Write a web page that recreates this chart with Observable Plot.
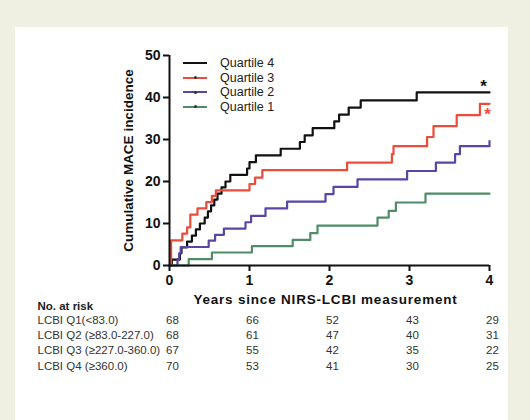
<!DOCTYPE html>
<html><head><meta charset="utf-8">
<script src="https://cdn.jsdelivr.net/npm/d3@7"></script>
<script src="https://cdn.jsdelivr.net/npm/@observablehq/plot@0.6"></script>
<style>
html,body{margin:0;padding:0;background:#efefe2;}
#wrap{position:relative;width:530px;height:420px;overflow:hidden;font-family:"Liberation Sans",Arial,sans-serif;}
#panel{position:absolute;left:15px;top:27px;width:493px;height:393px;background:#fff;}
#chart{position:absolute;left:0;top:0;}
#legend{position:absolute;left:183px;top:56px;}
.item{display:flex;align-items:center;height:14.5px;font-size:12.5px;color:#222;}
.sw{position:relative;width:24px;height:2.2px;margin-right:13px;}
.dot{position:absolute;left:11px;top:-0.4px;width:3px;height:3px;border-radius:50%;background:#333;}
</style></head><body>
<div id="wrap"><div id="panel"></div><div id="chart"></div><div id="legend"></div></div>
<script>
// ---- data ----
const seriesNames = ["Quartile 4", "Quartile 3", "Quartile 2", "Quartile 1"];
const seriesColors = ["#111111", "#ee4b3b", "#5a44a6", "#4f8c67"];

const q4Years  = [0,0.03,0.13,0.15,0.22,0.28,0.33,0.38,0.44,0.48,0.52,0.56,0.6,0.65,0.7,0.76,0.97,1.0,1.08,1.39,1.63,1.69,1.79,2.06,2.12,2.24,2.39,3.09,4.0];
const q4Values = [0,1.4,2.9,4.3,5.7,7.1,8.6,10.0,11.4,12.9,14.3,15.7,17.1,18.6,20.0,21.6,23.1,24.6,26.2,27.8,29.4,31.0,32.7,34.3,35.9,37.6,39.3,41.2,41.2];

const q3Years  = [0,0.02,0.16,0.22,0.26,0.35,0.46,0.53,0.58,1.0,1.07,1.16,2.22,2.78,2.8,3.22,3.3,3.59,3.88,4.0];
const q3Values = [0,6.0,7.6,9.1,12.1,13.6,15.1,16.6,17.9,19.4,20.9,22.7,24.5,26.5,28.4,30.6,33.2,35.8,38.5,38.5];

const q2Years  = [0,0.1,0.12,0.14,0.49,0.57,0.68,0.95,1.02,1.2,1.47,1.95,2.05,2.35,2.97,3.33,3.57,3.63,4.0];
const q2Values = [0,1.5,2.9,4.4,5.9,7.3,8.8,10.3,11.8,13.6,15.2,17.0,18.7,20.5,22.5,24.5,26.5,28.4,29.6];

const q1Years  = [0,0.24,0.53,1.03,1.54,1.76,1.85,2.6,2.74,2.83,3.2,4.0];
const q1Values = [0,1.5,3.1,4.6,6.1,7.7,9.5,11.4,13.0,15.0,17.1,17.1];

const xTicks = [0,1,2,3,4];
const yTicks = [0,10,20,30,40,50];
const xTitle = "Years since NIRS-LCBI measurement";
const yTitle = "Cumulative MACE incidence";

const riskTitle = "No. at risk";
const riskYears = [0,1,2,3,4];
const riskLabels = ["LCBI Q1(<83.0)", "LCBI Q2 (\u226583.0-227.0)", "LCBI Q3 (\u2265227.0-360.0)", "LCBI Q4 (\u2265360.0)"];
const riskQ1 = [68,66,52,43,29];
const riskQ2 = [68,61,47,40,31];
const riskQ3 = [67,55,42,35,22];
const riskQ4 = [70,53,41,30,25];

const starQ4 = {name:"Quartile 4", t:4, v:41.2};
const starQ3 = {name:"Quartile 3", t:4, v:38.5};

// ---- build ----
const seriesData = [
  [q4Years, q4Values], [q3Years, q3Values], [q2Years, q2Values], [q1Years, q1Values]
];
const rows = seriesData.flatMap(([ys, vs], k) => ys.map((t, i) => ({name: seriesNames[k], t, v: vs[i]})));
const riskTable = [riskQ1, riskQ2, riskQ3, riskQ4];

const font = "Liberation Sans, Arial, sans-serif";
const marks = [
  Plot.line(rows, {x:"t", y:"v", z:"name", stroke:"name", curve:"step-after", strokeWidth:2.2}),
  Plot.ruleX([0], {strokeWidth:2, stroke:"#111"}),
  Plot.ruleY([0], {strokeWidth:2, stroke:"#111"}),
  Plot.axisX({ticks:xTicks, tickFormat:d3.format("d"), tickSize:6, tickPadding:4, fontSize:14, fontWeight:"bold", label:null, strokeWidth:2, stroke:"#111", fill:"#111"}),
  Plot.axisY({ticks:yTicks, tickFormat:d3.format("d"), tickSize:6, tickPadding:3, fontSize:14, fontWeight:"bold", label:null, strokeWidth:2, stroke:"#111", fill:"#111"}),
  Plot.text([yTitle], {frameAnchor:"left", textAnchor:"middle", rotate:-90, dx:-41, fontWeight:"bold", fontSize:13.5, fill:"#111"}),
  Plot.text([xTitle], {frameAnchor:"bottom", dx:-4, dy:38, fontWeight:"bold", fontSize:13.5, fill:"#111", className:"xtitle"}),
  Plot.text([starQ4], {x:"t", y:"v", text:() => "*", fill:"name", dx:-6, dy:-6, fontSize:17, fontWeight:"bold"}),
  Plot.text([starQ3], {x:"t", y:"v", text:() => "*", fill:"name", dx:-2, dy:11, fontSize:17, fontWeight:"bold"}),
  Plot.text([riskTitle], {frameAnchor:"bottom-left", dx:-132, dy:44, textAnchor:"start", fontWeight:"bold", fontSize:11.5, fill:"#222"})
];
riskTable.forEach((arr, i) => {
  const d = riskYears.map((t, j) => ({t, n: arr[j]}));
  marks.push(Plot.text(d, {x:"t", text:"n", frameAnchor:"bottom", dx:3, dy:58.5 + 15.2*i, fontSize:11.5, fill:"#333"}));
  marks.push(Plot.text([riskLabels[i]], {frameAnchor:"bottom-left", dx:-132, dy:58.5 + 15.2*i, textAnchor:"start", fontSize:11.5, fill:"#333"}));
});

const chart = Plot.plot({
  width:530, height:420,
  marginLeft:169, marginRight:41, marginTop:55, marginBottom:155,
  style:{background:"transparent", fontFamily:font, color:"#111", overflow:"visible"},
  x:{domain:[0,4]},
  y:{domain:[0,50]},
  color:{domain:seriesNames, range:seriesColors},
  marks
});
document.getElementById("chart").appendChild(chart);
d3.select(chart).selectAll(".xtitle text").style("letter-spacing", "0.8px");

// legend
const leg = d3.select("#legend");
seriesNames.forEach((n, i) => {
  const it = leg.append("div").attr("class", "item");
  const sw = it.append("div").attr("class", "sw").style("background", seriesColors[i]);
  if (i > 0) sw.append("div").attr("class", "dot");
  it.append("span").text(n);
});
</script>
</body></html>
